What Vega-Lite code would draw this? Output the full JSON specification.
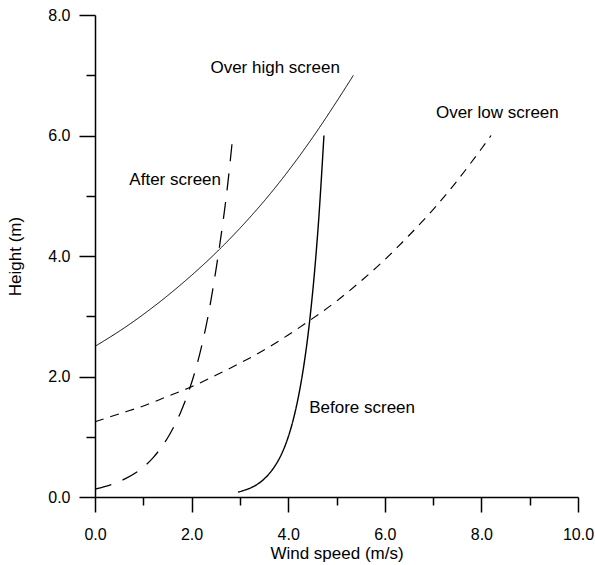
{
  "$schema": "https://vega.github.io/schema/vega-lite/v6.json",
  "width": 483,
  "height": 482,
  "autosize": {"type": "none"},
  "padding": {"left": 95, "top": 15, "right": 17, "bottom": 68},
  "background": "white",
  "config": {"view": {"stroke": null}, "font": "Liberation Sans"},
  "datasets": {
    "curves": [
      {"series": "Over high screen", "speed": 0, "height": 2.5},
      {"series": "Over high screen", "speed": 0.5, "height": 2.75},
      {"series": "Over high screen", "speed": 1.0, "height": 3.03},
      {"series": "Over high screen", "speed": 1.5, "height": 3.34},
      {"series": "Over high screen", "speed": 2.0, "height": 3.68},
      {"series": "Over high screen", "speed": 2.5, "height": 4.05},
      {"series": "Over high screen", "speed": 3.0, "height": 4.46},
      {"series": "Over high screen", "speed": 3.5, "height": 4.91},
      {"series": "Over high screen", "speed": 4.0, "height": 5.41},
      {"series": "Over high screen", "speed": 4.5, "height": 5.96},
      {"series": "Over high screen", "speed": 5.0, "height": 6.56},
      {"series": "Over high screen", "speed": 5.35, "height": 7.0},
      {"series": "Over low screen", "speed": 0, "height": 1.25},
      {"series": "Over low screen", "speed": 0.5, "height": 1.38},
      {"series": "Over low screen", "speed": 1.0, "height": 1.51},
      {"series": "Over low screen", "speed": 1.5, "height": 1.67},
      {"series": "Over low screen", "speed": 2.0, "height": 1.83},
      {"series": "Over low screen", "speed": 2.5, "height": 2.02},
      {"series": "Over low screen", "speed": 3.0, "height": 2.22},
      {"series": "Over low screen", "speed": 3.5, "height": 2.44},
      {"series": "Over low screen", "speed": 4.0, "height": 2.69},
      {"series": "Over low screen", "speed": 4.5, "height": 2.96},
      {"series": "Over low screen", "speed": 5.0, "height": 3.25},
      {"series": "Over low screen", "speed": 5.5, "height": 3.58},
      {"series": "Over low screen", "speed": 6.0, "height": 3.94},
      {"series": "Over low screen", "speed": 6.5, "height": 4.34},
      {"series": "Over low screen", "speed": 7.0, "height": 4.77},
      {"series": "Over low screen", "speed": 7.5, "height": 5.25},
      {"series": "Over low screen", "speed": 8.0, "height": 5.78},
      {"series": "Over low screen", "speed": 8.2, "height": 6.0},
      {"series": "After screen", "speed": 0, "height": 0.13},
      {"series": "After screen", "speed": 0.15, "height": 0.16},
      {"series": "After screen", "speed": 0.32, "height": 0.2},
      {"series": "After screen", "speed": 0.62, "height": 0.3},
      {"series": "After screen", "speed": 0.93, "height": 0.45},
      {"series": "After screen", "speed": 1.2, "height": 0.65},
      {"series": "After screen", "speed": 1.48, "height": 0.95},
      {"series": "After screen", "speed": 1.77, "height": 1.4},
      {"series": "After screen", "speed": 2.04, "height": 2.0},
      {"series": "After screen", "speed": 2.29, "height": 2.8},
      {"series": "After screen", "speed": 2.51, "height": 3.8},
      {"series": "After screen", "speed": 2.72, "height": 5.0},
      {"series": "After screen", "speed": 2.86, "height": 6.05},
      {"series": "Before screen", "speed": 2.96, "height": 0.08},
      {"series": "Before screen", "speed": 3.22, "height": 0.15},
      {"series": "Before screen", "speed": 3.43, "height": 0.25},
      {"series": "Before screen", "speed": 3.62, "height": 0.4},
      {"series": "Before screen", "speed": 3.79, "height": 0.6},
      {"series": "Before screen", "speed": 3.935, "height": 0.85},
      {"series": "Before screen", "speed": 4.077, "height": 1.2},
      {"series": "Before screen", "speed": 4.22, "height": 1.7},
      {"series": "Before screen", "speed": 4.363, "height": 2.4},
      {"series": "Before screen", "speed": 4.494, "height": 3.3},
      {"series": "Before screen", "speed": 4.622, "height": 4.5},
      {"series": "Before screen", "speed": 4.74, "height": 6.0}
    ],
    "labels": [
      {"text": "Over high screen", "speed": 3.73, "height": 7.12},
      {"text": "Over low screen", "speed": 8.33, "height": 6.37},
      {"text": "After screen", "speed": 1.66, "height": 5.26},
      {"text": "Before screen", "speed": 5.53, "height": 1.48}
    ]
  },
  "layer": [
    {
      "data": {"name": "curves"},
      "mark": {"type": "line", "color": "black", "interpolate": "catmull-rom"},
      "encoding": {
        "x": {
          "field": "speed", "type": "quantitative",
          "scale": {"domain": [0, 10], "nice": false, "zero": false},
          "axis": {
            "values": [0, 1, 2, 3, 4, 5, 6, 7, 8, 9, 10],
            "labelExpr": "datum.value % 2 === 0 ? format(datum.value, '.1f') : ''",
            "tickSize": {"condition": {"test": "datum.value % 2 === 0", "value": 15}, "value": 8},
            "title": "Wind speed (m/s)",
            "grid": false,
            "domainColor": "black", "tickColor": "black", "labelColor": "black", "titleColor": "black",
            "domainWidth": 1.5, "tickWidth": 1.5,
            "labelFontSize": 16, "titleFontSize": 17, "titleFontWeight": "normal",
            "labelFont": "Liberation Sans", "titleFont": "Liberation Sans",
            "labelFlush": false, "labelOverlap": false,
            "labelPadding": 14, "titlePadding": 3
          }
        },
        "y": {
          "field": "height", "type": "quantitative",
          "scale": {"domain": [0, 8], "nice": false, "zero": false},
          "axis": {
            "values": [0, 1, 2, 3, 4, 5, 6, 7, 8],
            "labelExpr": "datum.value % 2 === 0 ? format(datum.value, '.1f') : ''",
            "tickSize": {"condition": {"test": "datum.value % 2 === 0", "value": 16}, "value": 9},
            "title": "Height (m)",
            "grid": false,
            "domainColor": "black", "tickColor": "black", "labelColor": "black", "titleColor": "black",
            "domainWidth": 1.5, "tickWidth": 1.5,
            "labelFontSize": 16, "titleFontSize": 17, "titleFontWeight": "normal",
            "labelFont": "Liberation Sans", "titleFont": "Liberation Sans",
            "labelFlush": false, "labelOverlap": false,
            "labelPadding": 9, "titlePadding": 23
          }
        },
        "order": {"field": "height", "type": "quantitative"},
        "detail": {"field": "series", "type": "nominal"},
        "strokeDash": {
          "field": "series", "type": "nominal",
          "scale": {"domain": ["Over high screen", "Over low screen", "After screen", "Before screen"], "range": [[1, 0], [9, 7], [17, 12], [1, 0]]},
          "legend": null
        },
        "strokeWidth": {
          "field": "series", "type": "nominal",
          "scale": {"domain": ["Over high screen", "Over low screen", "After screen", "Before screen"], "range": [1, 1.4, 1.4, 1.8]},
          "legend": null
        }
      }
    },
    {
      "data": {"name": "labels"},
      "mark": {"type": "text", "fontSize": 17, "font": "Liberation Sans", "color": "black"},
      "encoding": {
        "x": {"field": "speed", "type": "quantitative"},
        "y": {"field": "height", "type": "quantitative"},
        "text": {"field": "text", "type": "nominal"}
      }
    }
  ]
}
